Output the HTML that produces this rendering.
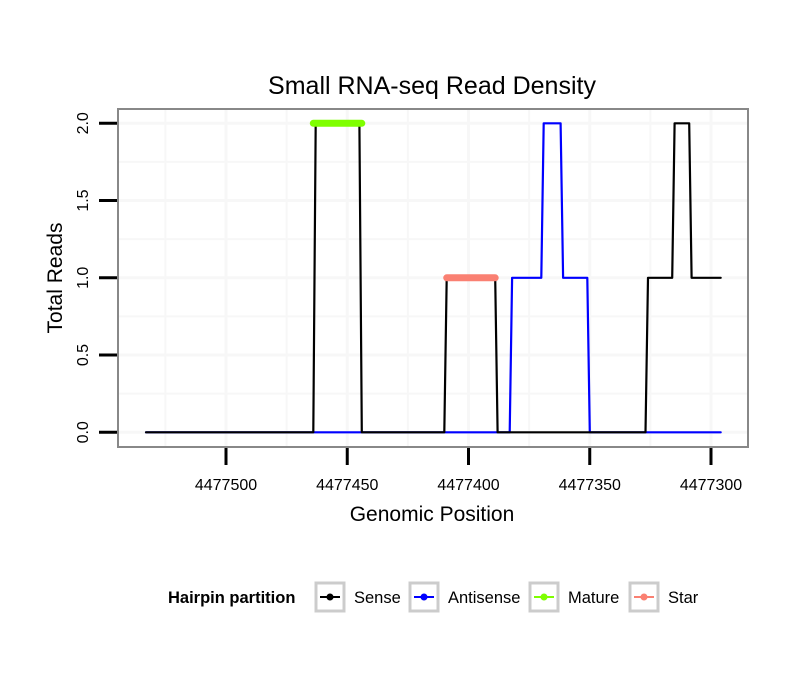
<!DOCTYPE html>
<html><head><meta charset="utf-8"><style>
body{margin:0;background:#fff;font-family:"Liberation Sans",sans-serif;}
</style></head><body>
<svg id="chart" width="810" height="690" xmlns="http://www.w3.org/2000/svg" font-family="Liberation Sans, sans-serif">
<text x="432" y="94" text-anchor="middle" font-size="25">Small RNA-seq Read Density</text>
<g id="grid"></g>
<g id="series"></g>
<rect x="118" y="109" width="630" height="338" fill="none" stroke="#888" stroke-width="2"/>
<g id="axes"></g>
<text x="432" y="521" text-anchor="middle" font-size="21">Genomic Position</text>
<text transform="translate(62,278) rotate(-90)" text-anchor="middle" font-size="21">Total Reads</text>
<g>
<text x="168" y="603" font-size="16.5" font-weight="bold">Hairpin partition</text>
<g id="legend"></g>
</g>
</svg>
<script>
const xTicks=[4477500,4477450,4477400,4477350,4477300];
const yTicks=[0,0.5,1,1.5,2];
const yTickLabels=["0.0","0.5","1.0","1.5","2.0"];
const senseX=[4477533,4477464,4477463,4477445,4477444,4477410,4477409,4477389,4477388,4477327,4477326,4477316,4477315,4477309,4477308,4477296];
const senseY=[0,0,2,2,0,0,1,1,0,0,1,1,2,2,1,1];
const antiX=[4477533,4477383,4477382,4477370,4477369,4477362,4477361,4477351,4477350,4477296];
const antiY=[0,0,1,1,2,2,1,1,0,0];
const matureX=[4477464,4477444];const matureY=[2,2];
const starX=[4477409,4477389];const starY=[1,1];
const legendLabels=["Sense","Antisense","Mature","Star"];
const legendColors=["#000","#0000ff","#7fff00","#fa8072"];
const NS="http://www.w3.org/2000/svg";
const xs=v=>226+(4477500-v)*121.25/50;
const ys=v=>432.3-v*154.5;
function mk(t,a,p){const e=document.createElementNS(NS,t);for(const k in a)e.setAttribute(k,a[k]);p.appendChild(e);return e;}
const grid=document.getElementById('grid'),ser=document.getElementById('series'),ax=document.getElementById('axes'),lg=document.getElementById('legend');
for(let i=0;i<xTicks.length;i++){
 for(const v of [xTicks[i],xTicks[i]+25]){const x=xs(v);if(x<118||x>748)continue;
 const l=mk('line',{x1:x,x2:x,y1:110,y2:446,stroke:"#f7f7f7","stroke-width":v===xTicks[i]?3:2},grid);
 
 }
 const x=xs(xTicks[i]);
 const t=mk('line',{x1:x,x2:x,y1:448,y2:465,stroke:"#000","stroke-width":3},ax);
 
 
 const tx=mk('text',{x:x,y:490,"text-anchor":"middle","font-size":16},ax);tx.textContent=xTicks[i];
 
 
}
for(let i=0;i<yTicks.length;i++){
 const y=ys(yTicks[i]);
 for(const v of [yTicks[i],yTicks[i]+0.25]){if(v>2.1)continue;const yy=ys(v);
 const l=mk('line',{x1:119,x2:747,y1:yy,y2:yy,stroke:"#f7f7f7","stroke-width":v===yTicks[i]?3:2},grid);
 
 }
 const t=mk('line',{x1:99,x2:117,y1:y,y2:y,stroke:"#000","stroke-width":3},ax);
 
 
 const tx=mk('text',{transform:`translate(88,${y}) rotate(-90)`,"text-anchor":"middle","font-size":16},ax);tx.textContent=yTickLabels[i];
 
 
}
function path(X,Y,col,w,name){const d=X.map((v,i)=>(i?'L':'M')+xs(v).toFixed(1)+','+ys(Y[i]).toFixed(1)).join(' ');
 const p=mk('path',{d:d,fill:"none",stroke:col,"stroke-width":w,"stroke-linecap":"round","stroke-linejoin":"round"},ser);
 
 }
path(antiX,antiY,"#0000ff",2.2,'antisense-line');
path(senseX,senseY,"#000",2.2,'sense-line');
path(matureX,matureY,"#7fff00",7,'mature-line');
path(starX,starY,"#fa8072",7,'star-line');
const lx=[314,408,528,628];
for(let i=0;i<4;i++){
 const g=mk('g',{},lg);
 
 
 mk('rect',{x:lx[i]+2,y:583,width:28,height:28,fill:"#fff",stroke:"#ccc","stroke-width":3},g);
 mk('line',{x1:lx[i]+6,x2:lx[i]+26,y1:597,y2:597,stroke:legendColors[i],"stroke-width":2},g);
 mk('circle',{cx:lx[i]+16,cy:597,r:3.5,fill:legendColors[i]},g);
 const t=mk('text',{x:lx[i]+40,y:603,"font-size":16.5},g);t.textContent=legendLabels[i];
}
</script>
</body></html>
